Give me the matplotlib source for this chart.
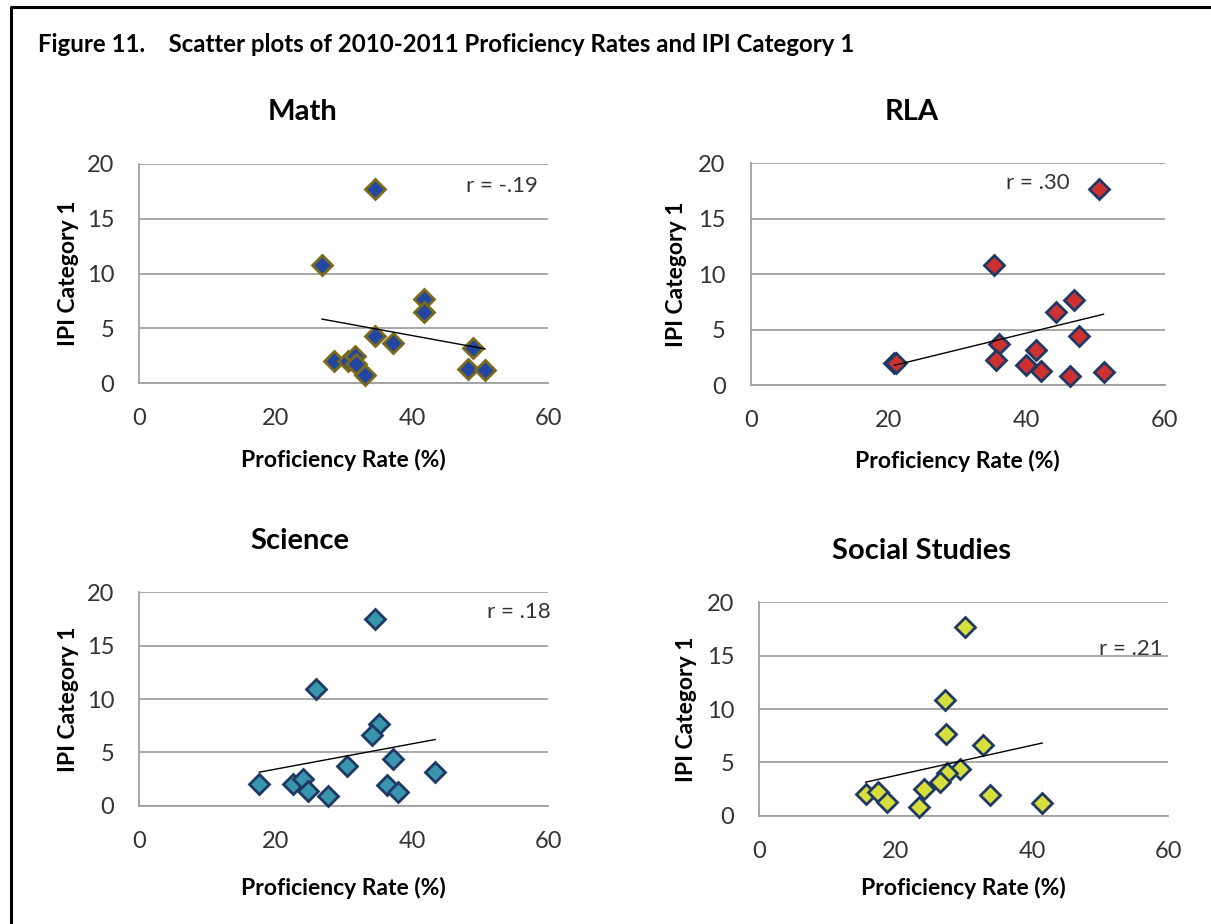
import numpy as np
import matplotlib
matplotlib.use("Agg")
import matplotlib.pyplot as plt
from matplotlib.lines import Line2D

plt.rcParams['font.family'] = ['Lato', 'DejaVu Sans']

# данные
math_x = [34.6, 26.8, 41.8, 41.8, 34.6, 37.2, 49.0, 28.5, 30.6, 31.6, 31.8, 33.1, 48.2, 50.7]
math_y = [17.7, 10.8, 7.7, 6.5, 4.3, 3.7, 3.2, 2.0, 2.0, 2.5, 1.8, 0.8, 1.3, 1.2]

rla_x = [50.5, 35.3, 46.8, 44.2, 47.5, 36.0, 41.3, 35.5, 20.8, 21.1, 39.9, 42.1, 51.1, 46.2]
rla_y = [17.7, 10.8, 7.7, 6.6, 4.4, 3.7, 3.2, 2.3, 2.0, 2.0, 1.8, 1.3, 1.2, 0.8]

sci_x = [34.6, 25.9, 35.1, 34.2, 37.2, 30.5, 43.4, 17.6, 22.6, 24.0, 24.8, 27.7, 36.4, 38.0]
sci_y = [17.5, 10.9, 7.7, 6.6, 4.4, 3.7, 3.2, 2.0, 2.0, 2.5, 1.4, 0.9, 1.9, 1.3]

ss_x = [30.2, 27.2, 27.4, 32.8, 29.4, 27.5, 26.5, 24.1, 15.6, 17.4, 18.8, 23.5, 33.9, 41.5]
ss_y = [17.7, 10.8, 7.7, 6.6, 4.4, 4.0, 3.2, 2.5, 2.0, 2.2, 1.3, 0.8, 1.9, 1.2]

titles = ["Math", "RLA", "Science", "Social Studies"]
r_labels = ["r = -.19", "r = .30", "r = .18", "r = .21"]
x_ticks = [0, 20, 40, 60]
y_ticks = [0, 5, 10, 15, 20]

W, H = 1211, 924
fig = plt.figure(figsize=(W / 100, H / 100), dpi=100)

# положения панелей в пикселях: left, top, right, bottom
boxes = [
    (139.3, 164.0, 548.3, 383.3),
    (750.7, 163.3, 1165.0, 385.0),
    (139.3, 592.3, 548.3, 805.7),
    (759.3, 602.3, 1168.3, 815.7),
]
title_pos = [(302, 112), (912, 112), (300, 541), (922, 551)]
r_pos = [(58.5, 18.0, 'right'), (41.6, 18.2, 'center'), (60.3, 18.2, 'right'), (59.1, 15.6, 'right')]
xlab_y = [-0.35, -0.343, -0.386, -0.339]
ylab_x = [-0.174, -0.178, -0.174, -0.179]

faces = ["#2347A0", "#CF3131", "#3A96AF", "#D6DF3C"]
edges = ["#7A6A1A", "#1F3864", "#1F3864", "#1F3864"]

datasets = [(math_x, math_y), (rla_x, rla_y), (sci_x, sci_y), (ss_x, ss_y)]
grid_c = "#A0A0A0"

for i, (xs, ys) in enumerate(datasets):
    l, t, r, b = boxes[i]
    ax = fig.add_axes([l / W, 1 - b / H, (r - l) / W, (b - t) / H])
    xs = np.array(xs)
    ys = np.array(ys)

    ax.plot(xs, ys, linestyle='none', marker='D', ms=10.5,
            mfc=faces[i], mec=edges[i], mew=2.0, zorder=3, clip_on=False)

    # линия тренда (МНК)
    k, c = np.polyfit(xs, ys, 1)
    xl = np.array([xs.min(), xs.max()])
    ax.plot(xl, k * xl + c, color="black", lw=1.0, zorder=4)

    ax.set_xlim(0, 60)
    ax.set_ylim(0, 20)
    ax.set_xticks(x_ticks)
    ax.set_yticks(y_ticks)
    ax.tick_params(length=0, labelsize=17, labelcolor="#333333", pad=18)
    ax.yaxis.grid(True, color=grid_c, lw=1.3)
    ax.set_axisbelow(True)
    for s in ["top", "right"]:
        ax.spines[s].set_visible(False)
    for s in ["left", "bottom"]:
        ax.spines[s].set_color(grid_c)
        ax.spines[s].set_linewidth(1.3)

    ax.set_xlabel("Proficiency Rate (%)", fontsize=16.5, fontweight='bold')
    ax.xaxis.set_label_coords(0.5, xlab_y[i])
    ax.xaxis.label.set_va('center')
    ax.set_ylabel("IPI Category 1", fontsize=16.5, fontweight='bold')
    ax.yaxis.set_label_coords(ylab_x[i], 0.5)
    ax.yaxis.label.set_va('center')

    rx, ry, ha = r_pos[i]
    ax.text(rx, ry, r_labels[i], ha=ha, va='center', fontsize=16,
            color="#333333", clip_on=False, zorder=1)

    tx, ty = title_pos[i]
    fig.text(tx / W, 1 - ty / H, titles[i], ha='center', va='center',
             fontsize=21, fontweight='bold')

fig.text(38 / W, 1 - 45 / H,
         "Figure 11.    Scatter plots of 2010-2011 Proficiency Rates and IPI Category 1",
         ha='left', va='center', fontsize=17.3, fontweight='bold')

# рамка слева и сверху
fig.add_artist(Line2D([11 / W, 11 / W, 1.0], [0.0, 1 - 7 / H, 1 - 7 / H],
                      transform=fig.transFigure, color="black", lw=2.2))

fig.savefig("out.png", dpi=100)
